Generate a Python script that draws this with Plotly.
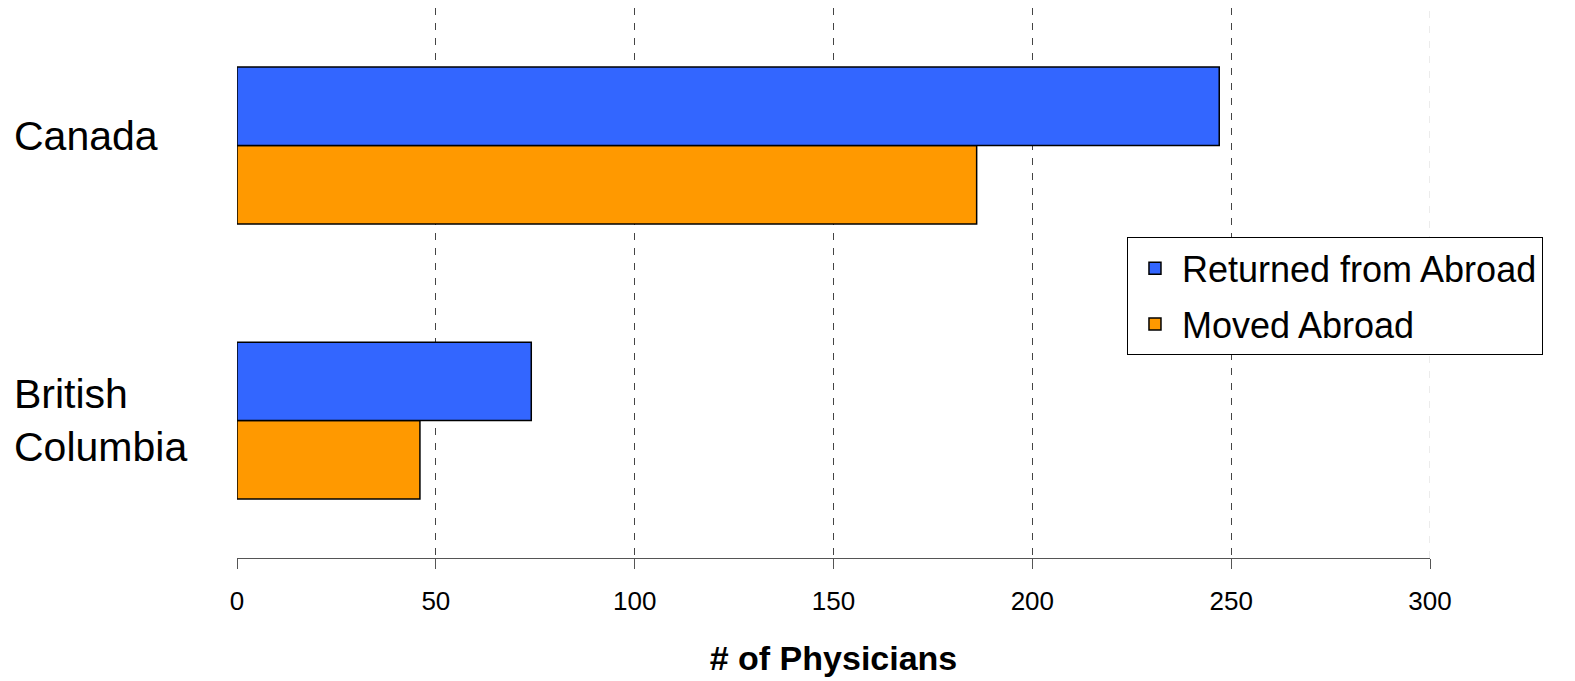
import plotly.graph_objects as go

categories = ["British<br>Columbia", "Canada"]
returned_from_abroad = [74, 247]
moved_abroad = [46, 186]
x_ticks = [0, 50, 100, 150, 200, 250, 300]

BLUE = "#3366FF"
ORANGE = "#FF9900"
FONT = "Liberation Sans, Arial, sans-serif"

fig = go.Figure()
fig.add_trace(go.Bar(
    y=categories, x=moved_abroad, name="Moved Abroad", orientation="h",
    legendgroup="moved", legendrank=2,
    marker=dict(color=ORANGE, line=dict(color="black", width=1.5)),
))
fig.add_trace(go.Bar(
    y=categories, x=returned_from_abroad, name="Returned from Abroad", orientation="h",
    legendgroup="returned", legendrank=1,
    marker=dict(color=BLUE, line=dict(color="black", width=1.5)),
))

# category labels, left aligned
for cat in categories:
    fig.add_annotation(
        x=0, xref="paper", xshift=-225, y=cat, yref="y",
        text=cat, showarrow=False, xanchor="left", yanchor="middle", align="left",
        font=dict(family=FONT, size=41, color="black"),
        yshift=10 if cat == "Canada" else 0,
    )

# faint gridline at the axis end
fig.add_shape(type="line", xref="x", yref="paper", x0=300, x1=300, y0=0, y1=1,
              line=dict(color="#e6e6e6", width=1.5, dash="7px,8px"), layer="above")

fig.update_layout(
    width=1575, height=681,
    margin=dict(l=229, r=153, t=0, b=131, autoexpand=False),
    paper_bgcolor="white", plot_bgcolor="white",
    barmode="group", bargap=0.43, bargroupgap=0,
    font=dict(family=FONT, color="black"),
    legend=dict(
        x=0.746, y=0.583, xanchor="left", yanchor="top",
        traceorder="grouped", tracegroupgap=6, itemwidth=44,
        bordercolor="black", borderwidth=1, bgcolor="white",
        font=dict(family=FONT, size=36, color="black"),
    ),
    xaxis=dict(
        range=[0, 300], tickvals=x_ticks, ticktext=[str(v) for v in x_ticks],
        showgrid=True, gridcolor="#444444", gridwidth=1, griddash="7px,8px",
        zeroline=False, showline=True, linecolor="#555555", linewidth=1,
        ticks="outside", ticklen=10, tickcolor="#555555",
        ticklabelstandoff=10,
        tickfont=dict(family=FONT, size=26, color="black"),
        title=dict(text="<b># of Physicians</b>", font=dict(family=FONT, size=34, color="black"), standoff=30),
    ),
    yaxis=dict(
        type="category", categoryorder="array", categoryarray=categories,
        range=[-0.5, 1.5], showticklabels=False, showgrid=False, zeroline=False,
        showline=False, ticks="",
    ),
)

fig.write_html("out.html")
